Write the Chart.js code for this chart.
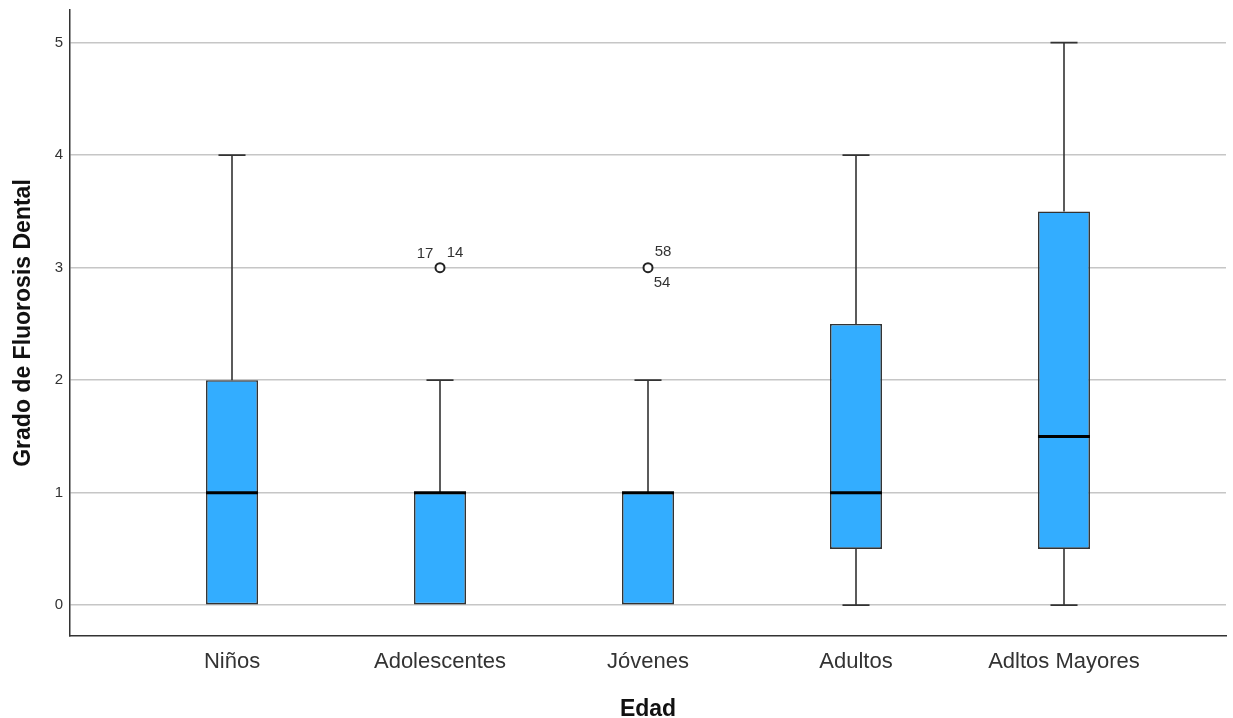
<!DOCTYPE html>
<html>
<head>
<meta charset="utf-8">
<script src="https://cdn.jsdelivr.net/npm/chart.js@4.4.1/dist/chart.umd.min.js"></script>
<style>
  html, body { margin: 0; padding: 0; background: #fff; }
  #wrap { width: 1233px; height: 718px; position: relative; }
</style>
</head>
<body>
<div id="wrap"><canvas id="chart"></canvas></div>
<script>
// ---- data ----
const categories = ['Niños', 'Adolescentes', 'Jóvenes', 'Adultos', 'Adltos Mayores'];
const minVals    = [0, 0, 0, 0, 0];
const q1Vals     = [0, 0, 0, 0.5, 0.5];
const medianVals = [1, 1, 1, 1, 1.5];
const q3Vals     = [2, 1, 1, 2.5, 3.5];
const maxVals    = [4, 2, 2, 4, 5];
const outlierCat = [1, 2];
const outlierVal = [3, 3];
const outlierIds = [['17', '14'], ['58', '54']];
const yTicks = [0, 1, 2, 3, 4, 5];

const FONT = "'Liberation Sans', Arial, sans-serif";

// where the case numbers sit around each outlier circle (px)
const idOffsets = [[[-15, -14], [15, -15]], [[15, -16], [14, 15]]];

const boxParts = {
  id: 'boxParts',
  beforeDatasetsDraw(chart) {
    // whiskers + caps
    const { ctx, scales: { x, y } } = chart;
    const bars = chart.getDatasetMeta(0).data;
    ctx.save();
    ctx.strokeStyle = '#333';
    ctx.lineWidth = 1.6;
    categories.forEach((c, i) => {
      const cx = Math.round(x.getPixelForValue(i));
      const cap = bars[i].width * 0.26;
      const seg = (from, to) => {
        if (from === to) return;
        const y1 = y.getPixelForValue(from), y2 = y.getPixelForValue(to);
        ctx.beginPath();
        ctx.moveTo(cx, y1); ctx.lineTo(cx, y2);
        ctx.moveTo(cx - cap, y2); ctx.lineTo(cx + cap, y2);
        ctx.stroke();
      };
      seg(q3Vals[i], maxVals[i]);
      seg(q1Vals[i], minVals[i]);
    });
    ctx.restore();
  },
  afterDatasetsDraw(chart) {
    const { ctx, scales: { x, y } } = chart;
    const bars = chart.getDatasetMeta(0).data;
    ctx.save();
    // medians
    ctx.strokeStyle = '#000';
    ctx.lineWidth = 3;
    categories.forEach((c, i) => {
      const cx = x.getPixelForValue(i);
      const half = bars[i].width / 2;
      const my = y.getPixelForValue(medianVals[i]);
      ctx.beginPath();
      ctx.moveTo(cx - half, my); ctx.lineTo(cx + half, my);
      ctx.stroke();
    });
    // outlier case labels
    ctx.fillStyle = '#333';
    ctx.font = '15px ' + FONT;
    ctx.textAlign = 'center';
    ctx.textBaseline = 'middle';
    outlierCat.forEach((cat, k) => {
      const px = x.getPixelForValue(cat);
      const py = y.getPixelForValue(outlierVal[k]);
      outlierIds[k].forEach((id, j) => {
        const [dx, dy] = idOffsets[k][j];
        ctx.fillText(id, px + dx, py + dy);
      });
    });
    ctx.restore();
  }
};

new Chart(document.getElementById('chart'), {
  type: 'bar',
  data: {
    datasets: [
      {
        type: 'bar',
        data: categories.map((c, i) => ({ x: i, y: [q1Vals[i], q3Vals[i]] })),
        backgroundColor: '#33adff',
        borderColor: '#333',
        borderWidth: 1.6,
        borderSkipped: false,
        categoryPercentage: 0.5,
        barPercentage: 0.5
      },
      {
        type: 'scatter',
        data: outlierCat.map((c, k) => ({ x: c, y: outlierVal[k] })),
        pointRadius: 4.5,
        pointBackgroundColor: '#fff',
        pointBorderColor: '#222',
        pointBorderWidth: 2,
        showLine: false
      }
    ]
  },
  options: {
    responsive: true,
    maintainAspectRatio: false,
    animation: false,
    layout: { padding: { top: 10, right: 7, left: 0, bottom: 0 } },
    plugins: {
      legend: { display: false },
      tooltip: { enabled: false }
    },
    scales: {
      x: {
        type: 'linear',
        min: -0.779,
        max: 4.779,
        bounds: 'data',
        offset: false,
        grid: { display: false, offset: false, drawTicks: false },
        border: { display: true, color: '#333', width: 1.5 },
        afterBuildTicks: s => { s.ticks = categories.map((c, i) => ({ value: i })); },
        afterFit: s => { s.height = 82; s.paddingLeft = 0; s.paddingRight = 0; },
        ticks: {
          padding: 13,
          color: '#333',
          font: { family: FONT, size: 22 },
          callback: v => categories[v]
        },
        title: {
          display: true,
          text: 'Edad',
          color: '#111',
          font: { family: FONT, size: 23, weight: 'bold' },
          padding: { top: 0, bottom: -5 }
        }
      },
      y: {
        min: -0.274,
        max: 5.29,
        bounds: 'data',
        grid: { color: '#c6c6c6', lineWidth: 1.5, drawTicks: false },
        border: { display: true, color: '#333', width: 1.5 },
        afterBuildTicks: s => { s.ticks = yTicks.map(v => ({ value: v })); },
        afterFit: s => { s.width = 70; s.paddingTop = 0; s.paddingBottom = 0; },
        ticks: {
          padding: 7,
          color: '#333',
          font: { family: FONT, size: 15 }
        },
        title: {
          display: true,
          text: 'Grado de Fluorosis Dental',
          color: '#111',
          font: { family: FONT, size: 23, weight: 'bold' },
          padding: { top: 10, bottom: 0 }
        }
      }
    }
  },
  plugins: [boxParts]
});
</script>
</body>
</html>
